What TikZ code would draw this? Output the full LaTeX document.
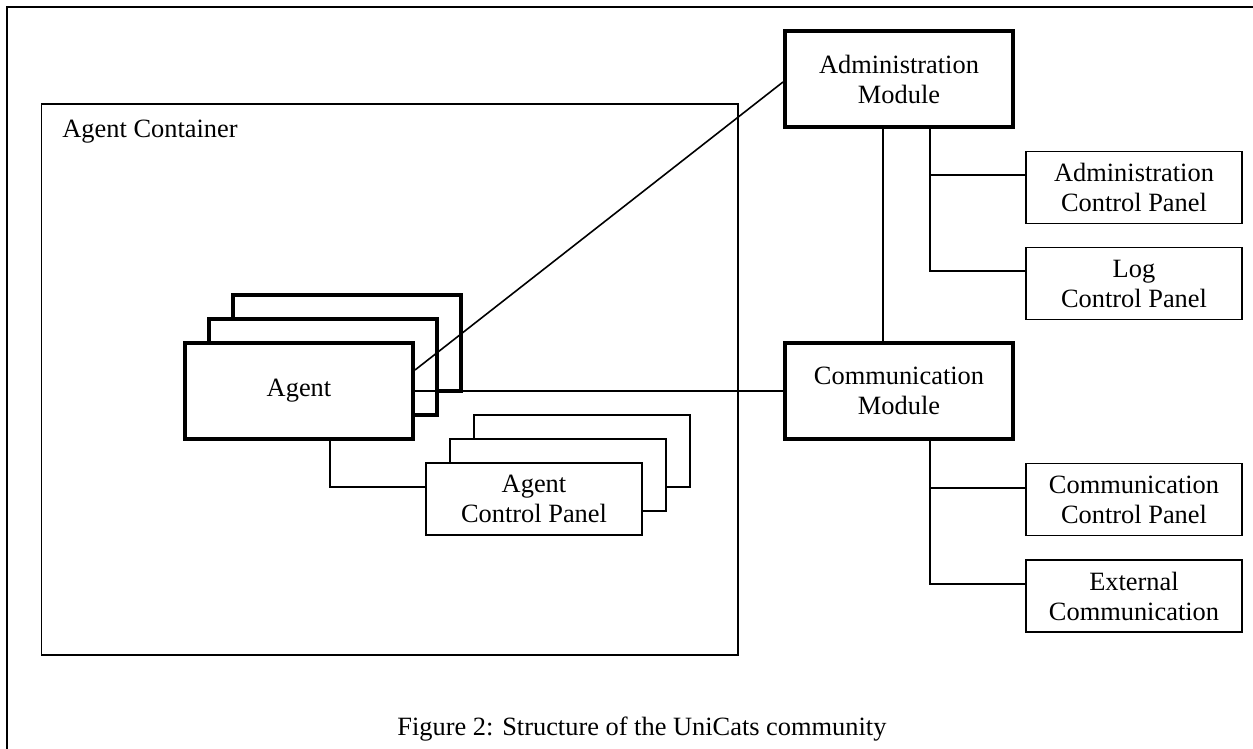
\documentclass[tikz,border=0pt]{standalone}
\usepackage{fontspec}
\setmainfont{Liberation Serif}
\begin{document}
\begin{tikzpicture}[x=0.5pt,y=-0.5pt,
  every node/.style={font=\fontsize{13.2pt}{15pt}\selectfont, align=center, inner sep=0pt},
  thickbox/.style={draw, line width=2pt, fill=white, minimum width=114pt, minimum height=48pt},
  thinbox/.style={draw, line width=0.8pt, fill=white, minimum width=108pt, minimum height=36pt},
  conn/.style={line width=0.8pt}]
\useasboundingbox (0,0) rectangle (1253,749);
\draw[line width=1.2pt] (7,7) rectangle (1290,790);
\node[draw, line width=0.8pt, minimum width=348.25pt, minimum height=275.5pt] (cont) at (389.75,379.5) {};
\node[anchor=base west] (contlbl) at (62,138) {Agent Container};
% agent stack
\node[thickbox] (ag3) at (347,343) {};
\node[thickbox] (ag2) at (323,367) {};
\node[thickbox] (agent) at (299,391) {Agent};
% agent control panel stack
\node[thinbox] (acp3) at (582,451) {};
\node[thinbox] (acp2) at (558,475) {};
\node[thinbox] (acp) at (534,499) {Agent\\Control Panel};
% modules
\node[thickbox] (adm) at (899,79) {Administration\\Module};
\node[thickbox] (com) at (899,391) {Communication\\Module};
% panels
\node[thinbox] (acpan) at (1134,187.5) {Administration\\Control Panel};
\node[thinbox] (log) at (1134,283.5) {Log\\Control Panel};
\node[thinbox] (ccp) at (1134,499.5) {Communication\\Control Panel};
\node[thinbox] (ext) at (1134,596) {External\\Communication};
% connectors
\draw[conn] ([yshift=10.5pt]agent.east) -- ([yshift=-1.5pt]adm.west);
\draw[conn] (agent.east) -- (com.west);
\draw[conn] ([xshift=15.5pt]agent.south) |- ([yshift=6pt]acp.west);
\draw[conn] ([xshift=-8pt]adm.south) -- ([xshift=-8pt]com.north);
\coordinate (ab1) at (930,175);
\coordinate (ab2) at (930,271);
\draw[conn] (ab1 |- adm.south) -- (ab2) -- (ab2 -| log.west);
\draw[conn] (ab1) -- (ab1 -| acpan.west);
\coordinate (cb1) at (930,488);
\coordinate (cb2) at (930,584);
\draw[conn] (cb1 |- com.south) -- (cb2) -- (cb2 -| ext.west);
\draw[conn] (cb1) -- (cb1 -| ccp.west);
% caption
\node[anchor=base west] (cap) at (397,735) {Figure 2: Structure of the UniCats community};
\end{tikzpicture}
\end{document}
